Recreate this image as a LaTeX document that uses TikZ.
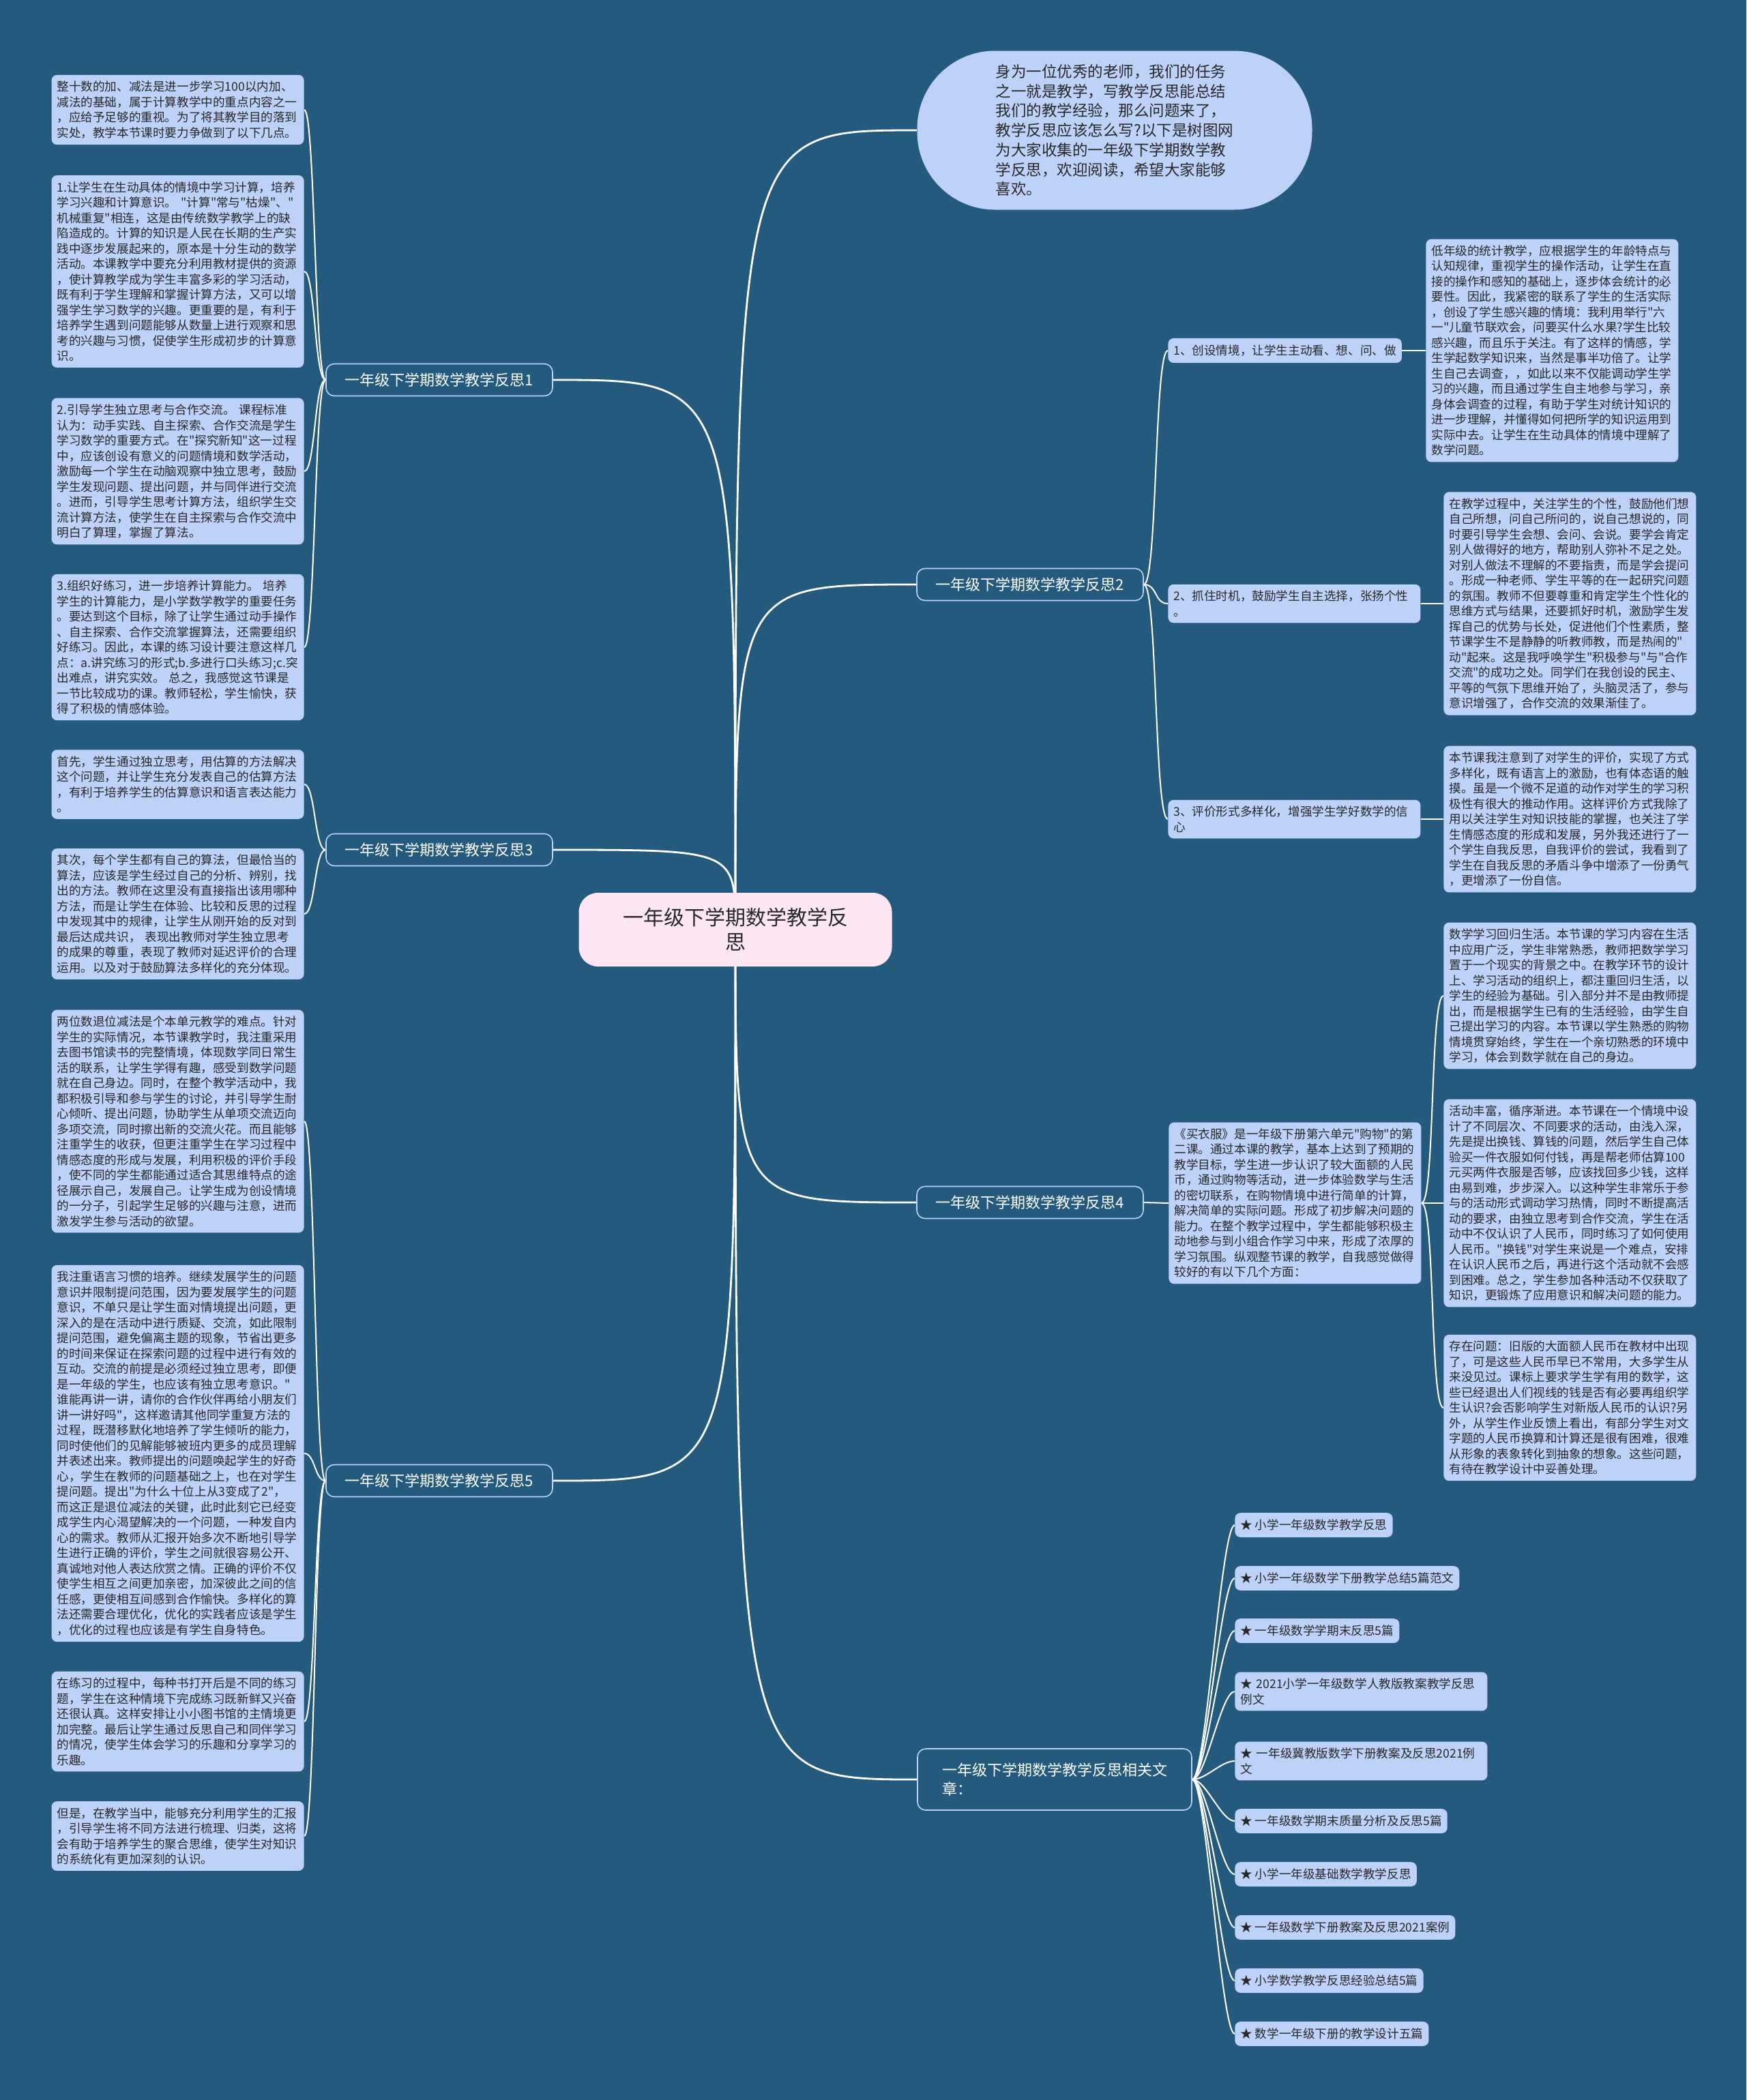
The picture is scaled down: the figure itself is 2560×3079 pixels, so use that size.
\documentclass[tikz,border=0pt]{standalone}
\usepackage{fontspec}
\setmainfont{Noto Sans CJK SC}[Ligatures=TeXOff]
\definecolor{bgc}{RGB}{36,90,126}
\definecolor{boxc}{RGB}{190,209,249}
\definecolor{txtc}{RGB}{40,40,40}
\definecolor{pinkc}{RGB}{253,230,243}
\definecolor{lonec}{RGB}{190,209,249}
\pgfdeclarelayer{back}
\pgfdeclarelayer{edges}
\pgfsetlayers{back,edges,main}
\begin{document}
\begin{tikzpicture}[x=0.5pt,y=-0.5pt,
  tbox/.style={fill=boxc, rounded corners=4pt, text=txtc, font=\fontsize{8.8pt}{11.25pt}\selectfont, align=left, text width=177pt, inner xsep=4pt, inner ysep=4.5pt},
  lbox/.style={fill=boxc, rounded corners=4pt, text=txtc, font=\fontsize{8.8pt}{11.25pt}\selectfont, align=left, inner xsep=4pt, inner ysep=4.8pt},
  lone/.style={draw=lonec, line width=0.8pt, fill=bgc, rounded corners=6pt, text=white, font=\fontsize{11pt}{14pt}\selectfont, minimum width=166pt, minimum height=23.5pt, align=left},
  mainedge/.style={draw=white, line width=1.4pt},
  subedge/.style={draw=white, line width=1pt},
]
\begin{pgfonlayer}{back}
\fill[bgc] (0,0) rectangle (2560,3079);
\end{pgfonlayer}
\useasboundingbox (0,0) rectangle (2560,3079);

% central
\node[fill=pinkc, rounded corners=14pt, minimum width=229.5pt, minimum height=54pt, font=\fontsize{15pt}{18pt}\selectfont, text=txtc, align=center] (C) at (1078,1363) {一年级下学期数学教学反\\思};

% intro
\node[fill=boxc, rounded corners=57pt, minimum width=289.5pt, minimum height=116.5pt, font=\fontsize{11.25pt}{14.35pt}\selectfont, align=left, text=txtc] (intro) at (1634,191) {身为一位优秀的老师，我们的任务\\
之一就是教学，写教学反思能总结\\
我们的教学经验，那么问题来了，\\
教学反思应该怎么写?以下是树图网\\
为大家收集的一年级下学期数学教\\
学反思，欢迎阅读，希望大家能够\\
喜欢。};

% level one
\node[lone] (F1) at (644,557) {一年级下学期数学教学反思1};
\node[lone] (F3) at (644,1246) {一年级下学期数学教学反思3};
\node[lone] (F5) at (644,2171) {一年级下学期数学教学反思5};
\node[lone] (F2) at (1510,857) {一年级下学期数学教学反思2};
\node[lone] (F4) at (1510,1763) {一年级下学期数学教学反思4};
\node[lone, minimum width=201pt, minimum height=45pt] (FR) at (1546,2609) {一年级下学期数学教学反思相关文\\章：};

% branch 1
\node[tbox, anchor=east] (l1a) at (446,161) {整十数的加、减法是进一步学习100以内加、\\
减法的基础，属于计算教学中的重点内容之一\\
，应给予足够的重视。为了将其教学目的落到\\
实处，教学本节课时要力争做到了以下几点。};
\node[tbox, anchor=east] (l1b) at (446,398) {1.让学生在生动具体的情境中学习计算，培养\\
学习兴趣和计算意识。 "计算"常与"枯燥"、"\\
机械重复"相连，这是由传统数学教学上的缺\\
陷造成的。计算的知识是人民在长期的生产实\\
践中逐步发展起来的，原本是十分生动的数学\\
活动。本课教学中要充分利用教材提供的资源\\
，使计算教学成为学生丰富多彩的学习活动，\\
既有利于学生理解和掌握计算方法，又可以增\\
强学生学习数学的兴趣。更重要的是，有利于\\
培养学生遇到问题能够从数量上进行观察和思\\
考的兴趣与习惯，促使学生形成初步的计算意\\
识。};
\node[tbox, anchor=east] (l1c) at (446,691) {2.引导学生独立思考与合作交流。 课程标准\\
认为：动手实践、自主探索、合作交流是学生\\
学习数学的重要方式。在"探究新知"这一过程\\
中，应该创设有意义的问题情境和数学活动，\\
激励每一个学生在动脑观察中独立思考，鼓励\\
学生发现问题、提出问题，并与同伴进行交流\\
。进而，引导学生思考计算方法，组织学生交\\
流计算方法，使学生在自主探索与合作交流中\\
明白了算理，掌握了算法。};
\node[tbox, anchor=east] (l1d) at (446,949) {3.组织好练习，进一步培养计算能力。 培养\\
学生的计算能力，是小学数学教学的重要任务\\
。要达到这个目标，除了让学生通过动手操作\\
、自主探索、合作交流掌握算法，还需要组织\\
好练习。因此，本课的练习设计要注意这样几\\
点：a.讲究练习的形式;b.多进行口头练习;c.突\\
出难点，讲究实效。 总之，我感觉这节课是\\
一节比较成功的课。教师轻松，学生愉快，获\\
得了积极的情感体验。};

% branch 3
\node[tbox, anchor=east] (l3a) at (446,1150) {首先，学生通过独立思考，用估算的方法解决\\
这个问题，并让学生充分发表自己的估算方法\\
，有利于培养学生的估算意识和语言表达能力\\
。};
\node[tbox, anchor=east] (l3b) at (446,1340) {其次，每个学生都有自己的算法，但最恰当的\\
算法，应该是学生经过自己的分析、辨别，找\\
出的方法。教师在这里没有直接指出该用哪种\\
方法，而是让学生在体验、比较和反思的过程\\
中发现其中的规律，让学生从刚开始的反对到\\
最后达成共识， 表现出教师对学生独立思考\\
的成果的尊重，表现了教师对延迟评价的合理\\
运用。以及对于鼓励算法多样化的充分体现。};

% branch 5
\node[tbox, anchor=east] (l5a) at (446,1644) {两位数退位减法是个本单元教学的难点。针对\\
学生的实际情况，本节课教学时，我注重采用\\
去图书馆读书的完整情境，体现数学同日常生\\
活的联系，让学生学得有趣，感受到数学问题\\
就在自己身边。同时，在整个教学活动中，我\\
都积极引导和参与学生的讨论，并引导学生耐\\
心倾听、提出问题，协助学生从单项交流迈向\\
多项交流，同时擦出新的交流火花。而且能够\\
注重学生的收获，但更注重学生在学习过程中\\
情感态度的形成与发展，利用积极的评价手段\\
，使不同的学生都能通过适合其思维特点的途\\
径展示自己，发展自己。让学生成为创设情境\\
的一分子，引起学生足够的兴趣与注意，进而\\
激发学生参与活动的欲望。};
\node[tbox, anchor=east] (l5b) at (446,2131) {我注重语言习惯的培养。继续发展学生的问题\\
意识并限制提问范围，因为要发展学生的问题\\
意识，不单只是让学生面对情境提出问题，更\\
深入的是在活动中进行质疑、交流，如此限制\\
提问范围，避免偏离主题的现象，节省出更多\\
的时间来保证在探索问题的过程中进行有效的\\
互动。交流的前提是必须经过独立思考，即便\\
是一年级的学生，也应该有独立思考意识。"\\
谁能再讲一讲，请你的合作伙伴再给小朋友们\\
讲一讲好吗"，这样邀请其他同学重复方法的\\
过程，既潜移默化地培养了学生倾听的能力，\\
同时使他们的见解能够被班内更多的成员理解\\
并表述出来。教师提出的问题唤起学生的好奇\\
心，学生在教师的问题基础之上，也在对学生\\
提问题。提出"为什么十位上从3变成了2"，\\
而这正是退位减法的关键，此时此刻它已经变\\
成学生内心渴望解决的一个问题，一种发自内\\
心的需求。教师从汇报开始多次不断地引导学\\
生进行正确的评价，学生之间就很容易公开、\\
真诚地对他人表达欣赏之情。正确的评价不仅\\
使学生相互之间更加亲密，加深彼此之间的信\\
任感，更使相互间感到合作愉快。多样化的算\\
法还需要合理优化，优化的实践者应该是学生\\
，优化的过程也应该是有学生自身特色。};
\node[tbox, anchor=east] (l5c) at (446,2524) {在练习的过程中，每种书打开后是不同的练习\\
题，学生在这种情境下完成练习既新鲜又兴奋\\
还很认真。这样安排让小小图书馆的主情境更\\
加完整。最后让学生通过反思自己和同伴学习\\
的情况，使学生体会学习的乐趣和分享学习的\\
乐趣。};
\node[tbox, anchor=east] (l5d) at (446,2692) {但是，在教学当中，能够充分利用学生的汇报\\
，引导学生将不同方法进行梳理、归类，这将\\
会有助于培养学生的聚合思维，使学生对知识\\
的系统化有更加深刻的认识。};

% branch 2
\node[lbox, anchor=west] (lab1) at (1712,514) {1、创设情境，让学生主动看、想、问、做};
\node[tbox, anchor=west] (lab2) at (1712,885) {2、抓住时机，鼓励学生自主选择，张扬个性\\。};
\node[tbox, anchor=west] (lab3) at (1712,1201) {3、评价形式多样化，增强学生学好数学的信\\心};
\node[tbox, anchor=west] (r1) at (2090,514) {低年级的统计教学，应根据学生的年龄特点与\\
认知规律，重视学生的操作活动，让学生在直\\
接的操作和感知的基础上，逐步体会统计的必\\
要性。因此，我紧密的联系了学生的生活实际\\
，创设了学生感兴趣的情境：我利用举行"六\\
一"儿童节联欢会，问要买什么水果?学生比较\\
感兴趣，而且乐于关注。有了这样的情感，学\\
生学起数学知识来，当然是事半功倍了。让学\\
生自己去调查，，如此以来不仅能调动学生学\\
习的兴趣，而且通过学生自主地参与学习，亲\\
身体会调查的过程，有助于学生对统计知识的\\
进一步理解，并懂得如何把所学的知识运用到\\
实际中去。让学生在生动具体的情境中理解了\\
数学问题。};
\node[tbox, anchor=west] (r2) at (2116,885) {在教学过程中，关注学生的个性，鼓励他们想\\
自己所想，问自己所问的，说自己想说的，同\\
时要引导学生会想、会问、会说。要学会肯定\\
别人做得好的地方，帮助别人弥补不足之处。\\
对别人做法不理解的不要指责，而是学会提问\\
。形成一种老师、学生平等的在一起研究问题\\
的氛围。教师不但要尊重和肯定学生个性化的\\
思维方式与结果，还要抓好时机，激励学生发\\
挥自己的优势与长处，促进他们个性素质，整\\
节课学生不是静静的听教师教，而是热闹的"\\
动"起来。这是我呼唤学生"积极参与"与"合作\\
交流"的成功之处。同学们在我创设的民主、\\
平等的气氛下思维开始了，头脑灵活了，参与\\
意识增强了，合作交流的效果渐佳了。};
\node[tbox, anchor=west] (r3) at (2116,1201) {本节课我注意到了对学生的评价，实现了方式\\
多样化，既有语言上的激励，也有体态语的触\\
摸。虽是一个微不足道的动作对学生的学习积\\
极性有很大的推动作用。这样评价方式我除了\\
用以关注学生对知识技能的掌握，也关注了学\\
生情感态度的形成和发展，另外我还进行了一\\
个学生自我反思，自我评价的尝试，我看到了\\
学生在自我反思的矛盾斗争中增添了一份勇气\\
，更增添了一份自信。};

% branch 4
\node[tbox, anchor=west] (lab4) at (1713,1764) {《买衣服》是一年级下册第六单元"购物"的第\\
二课。通过本课的教学，基本上达到了预期的\\
教学目标，学生进一步认识了较大面额的人民\\
币，通过购物等活动，进一步体验数学与生活\\
的密切联系，在购物情境中进行简单的计算，\\
解决简单的实际问题。形成了初步解决问题的\\
能力。在整个教学过程中，学生都能够积极主\\
动地参与到小组合作学习中来，形成了浓厚的\\
学习氛围。纵观整节课的教学，自我感觉做得\\
较好的有以下几个方面：};
\node[tbox, anchor=west] (r4a) at (2116,1460) {数学学习回归生活。本节课的学习内容在生活\\
中应用广泛，学生非常熟悉，教师把数学学习\\
置于一个现实的背景之中。在教学环节的设计\\
上、学习活动的组织上，都注重回归生活，以\\
学生的经验为基础。引入部分并不是由教师提\\
出，而是根据学生已有的生活经验，由学生自\\
己提出学习的内容。本节课以学生熟悉的购物\\
情境贯穿始终，学生在一个亲切熟悉的环境中\\
学习，体会到数学就在自己的身边。};
\node[tbox, anchor=west] (r4b) at (2116,1764) {活动丰富，循序渐进。本节课在一个情境中设\\
计了不同层次、不同要求的活动，由浅入深，\\
先是提出换钱、算钱的问题，然后学生自己体\\
验买一件衣服如何付钱，再是帮老师估算100\\
元买两件衣服是否够，应该找回多少钱，这样\\
由易到难，步步深入。以这种学生非常乐于参\\
与的活动形式调动学习热情，同时不断提高活\\
动的要求，由独立思考到合作交流，学生在活\\
动中不仅认识了人民币，同时练习了如何使用\\
人民币。"换钱"对学生来说是一个难点，安排\\
在认识人民币之后，再进行这个活动就不会感\\
到困难。总之，学生参加各种活动不仅获取了\\
知识，更锻炼了应用意识和解决问题的能力。};
\node[tbox, anchor=west] (r4c) at (2116,2064) {存在问题：旧版的大面额人民币在教材中出现\\
了，可是这些人民币早已不常用，大多学生从\\
来没见过。课标上要求学生学有用的数学，这\\
些已经退出人们视线的钱是否有必要再组织学\\
生认识?会否影响学生对新版人民币的认识?另\\
外，从学生作业反馈上看出，有部分学生对文\\
字题的人民币换算和计算还是很有困难，很难\\
从形象的表象转化到抽象的想象。这些问题，\\
有待在教学设计中妥善处理。};

% related
\node[lbox, anchor=west] (s1) at (1810,2236) {★ 小学一年级数学教学反思};
\node[lbox, anchor=west] (s2) at (1810,2314) {★ 小学一年级数学下册教学总结5篇范文};
\node[lbox, anchor=west] (s3) at (1810,2391) {★ 一年级数学学期末反思5篇};
\node[tbox, anchor=west] (s4) at (1810,2480) {★ 2021小学一年级数学人教版教案教学反思\\例文};
\node[tbox, anchor=west] (s5) at (1810,2582) {★ 一年级冀教版数学下册教案及反思2021例\\文};
\node[lbox, anchor=west] (s6) at (1810,2670) {★ 一年级数学期末质量分析及反思5篇};
\node[lbox, anchor=west] (s7) at (1810,2748) {★ 小学一年级基础数学教学反思};
\node[lbox, anchor=west] (s8) at (1810,2826) {★ 一年级数学下册教案及反思2021案例};
\node[lbox, anchor=west] (s9) at (1810,2904) {★ 小学数学教学反思经验总结5篇};
\node[lbox, anchor=west] (s10) at (1810,2982) {★ 数学一年级下册的教学设计五篇};

\begin{pgfonlayer}{edges}
\foreach \t in {F1,F3,F5} {
  \draw[mainedge] (C.center) .. controls (C.center |- \t.east) .. (\t.east);
}
\foreach \t in {F2,F4,FR,intro} {
  \draw[mainedge] (C.center) .. controls (C.center |- \t.west) .. (\t.west);
}
\foreach \p/\c in {F1/l1a,F1/l1b,F1/l1c,F1/l1d,F3/l3a,F3/l3b,F5/l5a,F5/l5b,F5/l5c,F5/l5d} {
  \draw[subedge] (\p.west) .. controls +(-16,0) and +(16,0) .. (\c.east);
}
\foreach \p/\c in {F2/lab1,F2/lab2,F2/lab3,lab4/r4a,lab4/r4b,lab4/r4c,FR/s1,FR/s2,FR/s3,FR/s4,FR/s5,FR/s6,FR/s7,FR/s8,FR/s9,FR/s10} {
  \draw[subedge] (\p.east) .. controls +(20,0) and +(-20,0) .. (\c.west);
}
\draw[subedge] (lab1.east) -- (r1.west);
\draw[subedge] (lab2.east) -- (r2.west);
\draw[subedge] (lab3.east) -- (r3.west);
\draw[subedge] (F4.east) -- (lab4.west);
\end{pgfonlayer}
\end{tikzpicture}
\end{document}
